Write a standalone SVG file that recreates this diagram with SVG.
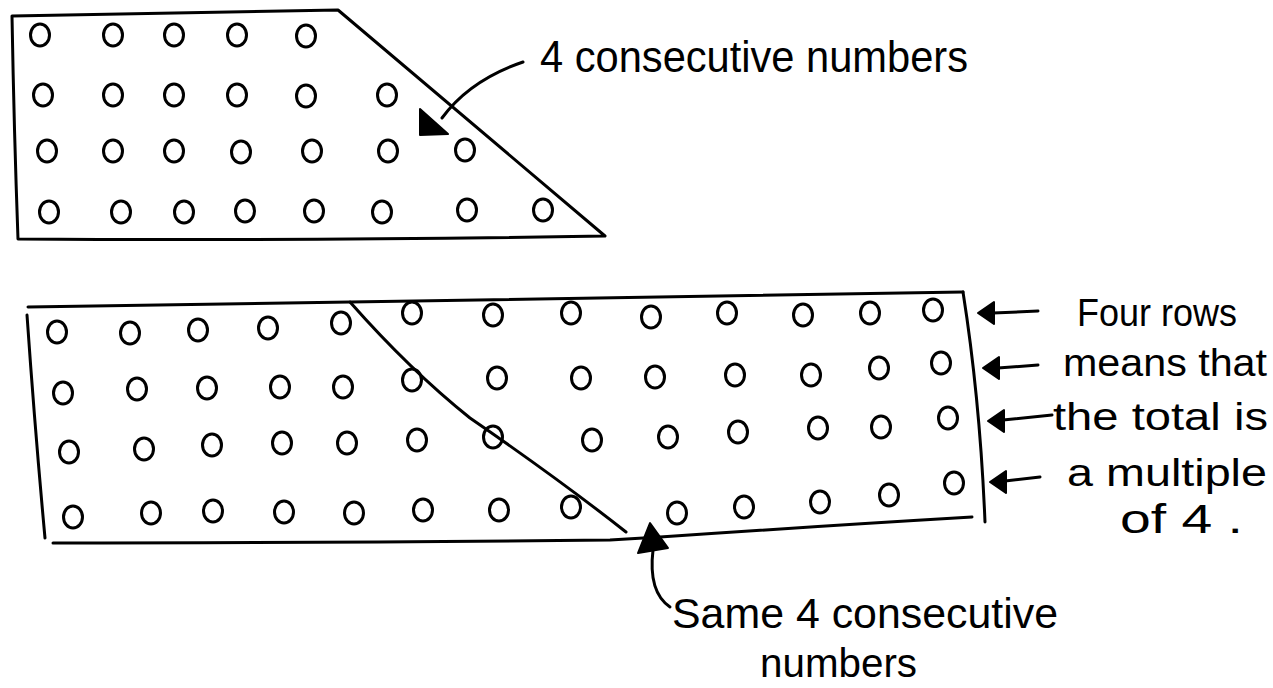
<svg xmlns="http://www.w3.org/2000/svg" width="1273" height="688" viewBox="0 0 1273 688">
<style>
.ln{fill:none;stroke:#000;stroke-width:3;stroke-linecap:round;stroke-linejoin:round}
.c{fill:none;stroke:#000;stroke-width:3}
.hd{fill:#000;stroke:#000;stroke-width:2;stroke-linejoin:round}
.t{font-family:"Liberation Sans",Arial,sans-serif;fill:#000}
</style>
<defs>
<ellipse id="o" cx="0" cy="0" rx="9.5" ry="11" class="c"/>
</defs>
<rect width="1273" height="688" fill="#fff"/>

<g id="top-shape">
<path class="ln" d="M12,16 Q180,13 338,10 L605,236 Q300,241 18,239 Q14,130 12,16 Z"/>
<g id="top-dots">
<use href="#o" x="40" y="35"/><use href="#o" x="113" y="35"/><use href="#o" x="174" y="35"/><use href="#o" x="237" y="35"/><use href="#o" x="306" y="36"/>
<use href="#o" x="43" y="95"/><use href="#o" x="113" y="95"/><use href="#o" x="174" y="95"/><use href="#o" x="237" y="95"/><use href="#o" x="306" y="96"/><use href="#o" x="387" y="95"/>
<use href="#o" x="47" y="151"/><use href="#o" x="113" y="151"/><use href="#o" x="174" y="151"/><use href="#o" x="241" y="152"/><use href="#o" x="312" y="151"/><use href="#o" x="388" y="151"/><use href="#o" x="465" y="150"/>
<use href="#o" x="49" y="212"/><use href="#o" x="121" y="212"/><use href="#o" x="184" y="212"/><use href="#o" x="245" y="211"/><use href="#o" x="314" y="211"/><use href="#o" x="382" y="212"/><use href="#o" x="467" y="210"/><use href="#o" x="543" y="210"/>
</g>
</g>

<g id="bottom-shape">
<path class="ln" d="M28,307 Q200,304 350,302 Q650,296 963,292"/>
<path class="ln" d="M963,292 Q980,400 985,522"/>
<path class="ln" d="M972,517 Q820,526 660,537 L610,540 Q300,543 53,543"/>
<path class="ln" d="M27,315 Q35,430 45,538"/>
<path class="ln" d="M350,302 Q410,370 470,418 Q560,480 626,532"/>
<g id="bottom-left-dots">
<use href="#o" x="57" y="332"/><use href="#o" x="130" y="333"/><use href="#o" x="198" y="330"/><use href="#o" x="268" y="328"/><use href="#o" x="341" y="323"/>
<use href="#o" x="63" y="393"/><use href="#o" x="137" y="389"/><use href="#o" x="207" y="388"/><use href="#o" x="280" y="387"/><use href="#o" x="343" y="387"/><use href="#o" x="412" y="380"/>
<use href="#o" x="69" y="452"/><use href="#o" x="144" y="449"/><use href="#o" x="212" y="445"/><use href="#o" x="282" y="443"/><use href="#o" x="347" y="443"/><use href="#o" x="417" y="440"/><use href="#o" x="493" y="437"/>
<use href="#o" x="73" y="517"/><use href="#o" x="151" y="513"/><use href="#o" x="213" y="511"/><use href="#o" x="284" y="512"/><use href="#o" x="354" y="513"/><use href="#o" x="423" y="510"/><use href="#o" x="499" y="510"/><use href="#o" x="571" y="507"/>
</g>
<g id="bottom-right-dots">
<use href="#o" x="412" y="313"/><use href="#o" x="493" y="315"/><use href="#o" x="571" y="313"/><use href="#o" x="651" y="317"/><use href="#o" x="727" y="313"/><use href="#o" x="803" y="315"/><use href="#o" x="870" y="313"/><use href="#o" x="933" y="310"/>
<use href="#o" x="497" y="378"/><use href="#o" x="581" y="378"/><use href="#o" x="655" y="377"/><use href="#o" x="735" y="375"/><use href="#o" x="811" y="375"/><use href="#o" x="879" y="368"/><use href="#o" x="941" y="363"/>
<use href="#o" x="592" y="440"/><use href="#o" x="668" y="437"/><use href="#o" x="738" y="432"/><use href="#o" x="818" y="428"/><use href="#o" x="881" y="427"/><use href="#o" x="948" y="418"/>
<use href="#o" x="677" y="513"/><use href="#o" x="744" y="507"/><use href="#o" x="820" y="502"/><use href="#o" x="889" y="495"/><use href="#o" x="954" y="483"/>
</g>
</g>

<g id="connectors">
<path class="ln" d="M523,62 Q470,80 442,118"/>
<path class="hd" d="M420,135 L420,109 L448,134 Z"/>
<path class="ln" d="M1038,311 L993,313"/>
<path class="hd" d="M978,313 L994,302 L994,324 Z"/>
<path class="ln" d="M1038,365 L998,368"/>
<path class="hd" d="M983,368 L999,357 L999,379 Z"/>
<path class="ln" d="M1052,415 L1003,420"/>
<path class="hd" d="M988,421 L1004,410 L1004,432 Z"/>
<path class="ln" d="M1040,477 L1005,481"/>
<path class="hd" d="M990,482 L1006,471 L1006,493 Z"/>
<path class="ln" d="M653,550 Q648,592 670,607"/>
<path class="hd" d="M650,523 L638,553 L668,548 Z"/>
</g>

<g id="labels">
<text class="t" x="540" y="72" font-size="44" textLength="428" lengthAdjust="spacingAndGlyphs">4 consecutive numbers</text>
<text class="t" x="1077" y="326" font-size="38" textLength="160" lengthAdjust="spacingAndGlyphs">Four rows</text>
<text class="t" x="1063" y="376" font-size="38" textLength="204" lengthAdjust="spacingAndGlyphs">means that</text>
<text class="t" x="1053" y="430" font-size="38" textLength="215" lengthAdjust="spacingAndGlyphs">the total is</text>
<text class="t" x="1067" y="486" font-size="38" textLength="200" lengthAdjust="spacingAndGlyphs">a multiple</text>
<text class="t" x="1120" y="533" font-size="40" textLength="123" lengthAdjust="spacingAndGlyphs">of 4 .</text>
<text class="t" x="672" y="628" font-size="42" textLength="386" lengthAdjust="spacingAndGlyphs">Same 4 consecutive</text>
<text class="t" x="760" y="677" font-size="40" textLength="157" lengthAdjust="spacingAndGlyphs">numbers</text>
</g>
</svg>
